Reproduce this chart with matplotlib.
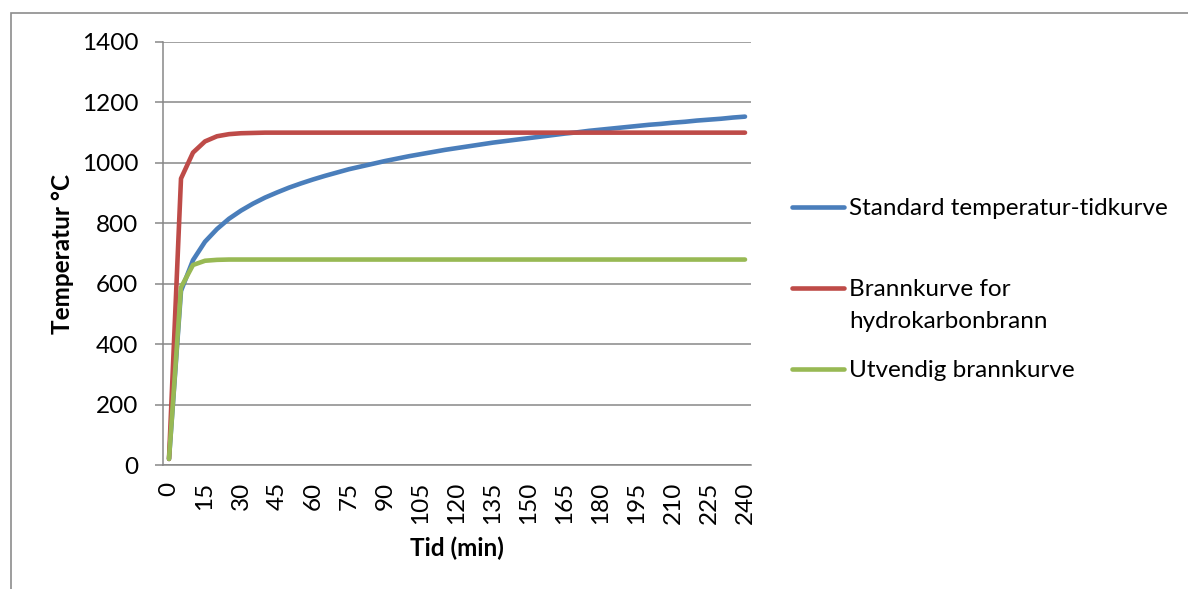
import matplotlib
matplotlib.use("Agg")
import matplotlib.pyplot as plt
from matplotlib.lines import Line2D
from matplotlib.patches import Rectangle

# Time in minutes, one sample every 5 minutes
minutes = list(range(0, 245, 5))

standard_curve = [20, 576, 678, 739, 781, 815, 842, 865, 885, 902, 918, 932, 945,
                  957, 968, 979, 988, 997, 1006, 1014, 1022, 1029, 1036, 1043, 1049,
                  1055, 1061, 1067, 1072, 1077, 1082, 1087, 1092, 1097, 1101, 1106,
                  1110, 1114, 1118, 1122, 1126, 1129, 1133, 1136, 1140, 1143, 1146,
                  1150, 1153]
hydrocarbon_curve = [20, 948, 1034, 1071, 1088, 1095, 1098, 1099] + [1100] * 41
external_curve = [20, 588, 662, 676, 679] + [680] * 44

series_names = ["Standard temperatur-tidkurve",
                "Brannkurve for\nhydrokarbonbrann",
                "Utvendig brannkurve"]
series_colors = ["#4A7EBB", "#BE4B48", "#98B954"]

y_ticks = [0, 200, 400, 600, 800, 1000, 1200, 1400]

W, H = 1188, 589
FS = 17.5
plt.rcParams["font.family"] = ["Lato", "DejaVu Sans"]

fig = plt.figure(figsize=(W / 100, H / 100), dpi=100)
fig.patch.set_facecolor("white")

# chart frame
fig.add_artist(Rectangle((11 / W, -0.1), 1.2, 1 - 13 / H + 0.1,
                         transform=fig.transFigure, fill=False,
                         edgecolor="#8C8C8C", linewidth=1.2))

left, right, top, bottom = 163, 751, 42, 465
ax = fig.add_axes([left / W, 1 - bottom / H, (right - left) / W, (bottom - top) / H])

grid_color = "#878787"
idx = list(range(len(minutes)))
for vals, color in zip([standard_curve, hydrocarbon_curve, external_curve], series_colors):
    ax.plot(idx, vals, color=color, linewidth=3.3, solid_capstyle="round",
            solid_joinstyle="round", zorder=3)

ax.set_xlim(-0.5, len(minutes) - 0.5)
ax.set_ylim(0, 1400)
ax.set_yticks(y_ticks)
ax.set_yticklabels([str(v) for v in y_ticks], fontsize=FS)
ax.yaxis.grid(True, color=grid_color, linewidth=1.1)
ax.set_axisbelow(True)

ax.set_xticks(idx[::3])
ax.set_xticklabels([str(m) for m in minutes[::3]], rotation=90, fontsize=FS)
ax.tick_params(axis="x", length=0, pad=12)
ax.tick_params(axis="y", length=5.8, width=1.1, color=grid_color, pad=12)

for s in ["top", "right"]:
    ax.spines[s].set_visible(False)
for s in ["left", "bottom"]:
    ax.spines[s].set_color(grid_color)
    ax.spines[s].set_linewidth(1.1)

fig.text(63 / W, 1 - 254 / H, "Temperatur °C", rotation=90, fontsize=FS,
         fontweight="bold", ha="center", va="center")
fig.text(457 / W, 1 - 548 / H, "Tid (min)", fontsize=FS, fontweight="bold",
         ha="center", va="center")

# legend entries
legend_rows = [207, 288, 369]
for name, color, yrow in zip(series_names, series_colors, legend_rows):
    fig.add_artist(Line2D([792 / W, 844 / W], [1 - yrow / H, 1 - yrow / H],
                          transform=fig.transFigure, color=color, linewidth=3.3,
                          solid_capstyle="round"))
    fig.text(849 / W, 1 - (yrow - 9) / H, name, fontsize=FS, ha="left", va="top",
             linespacing=1.65)

fig.savefig("out.png", dpi=100, facecolor="white")
